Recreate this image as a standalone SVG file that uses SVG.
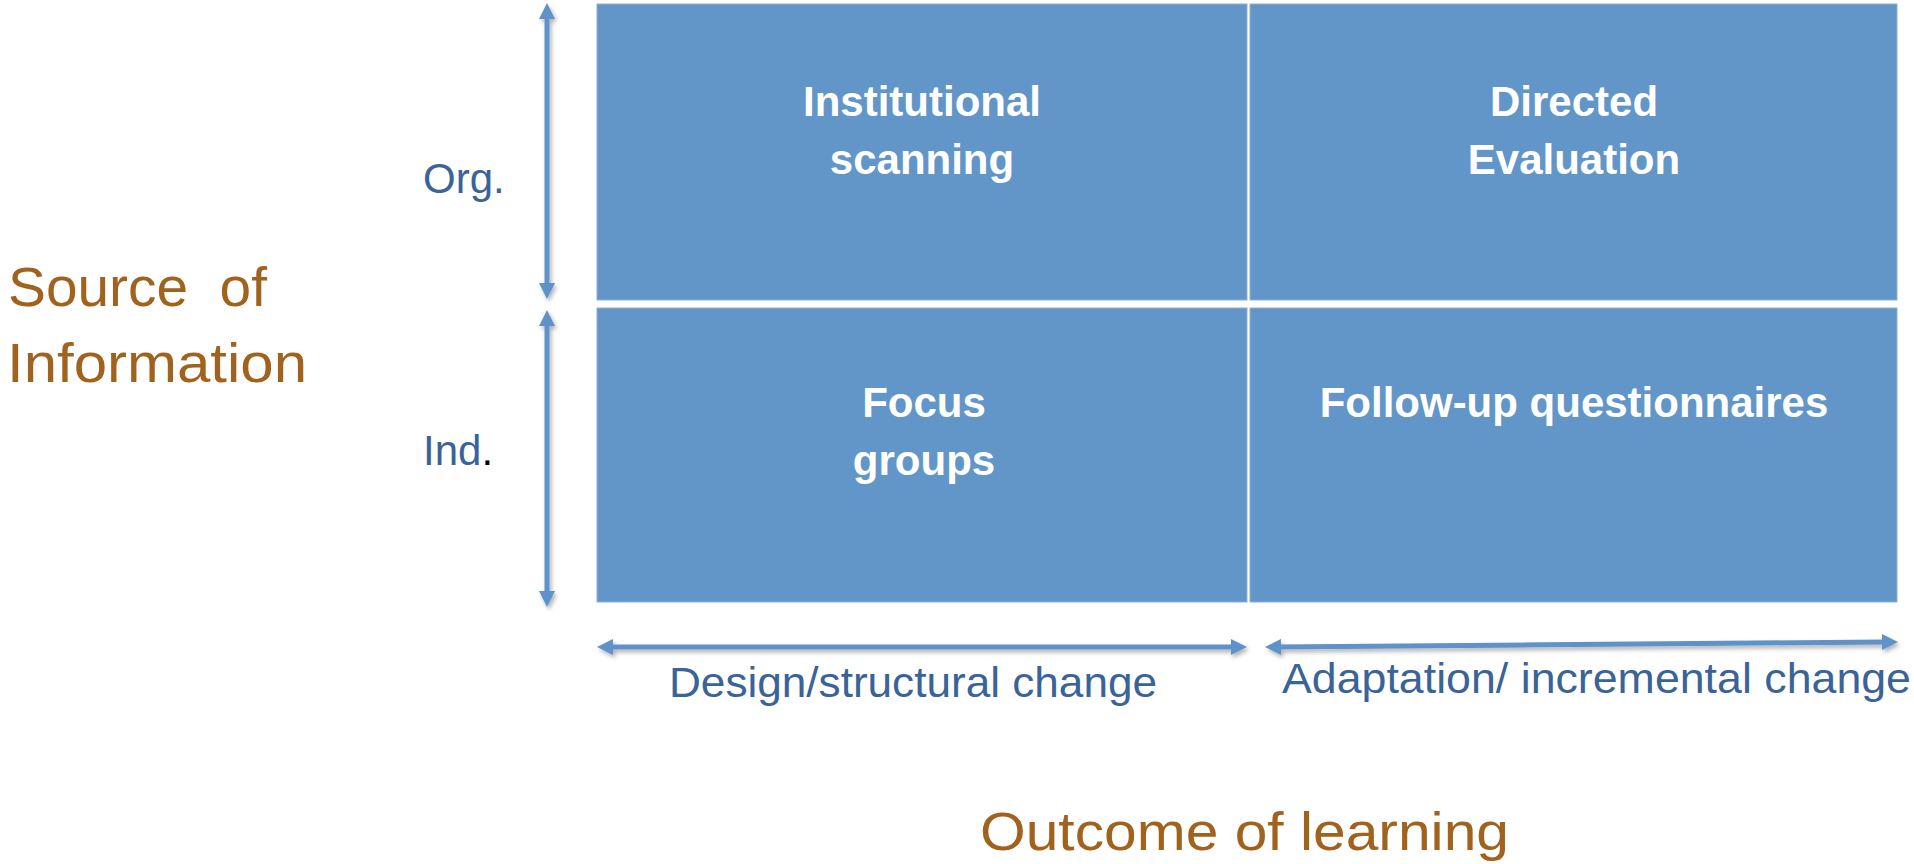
<svg xmlns="http://www.w3.org/2000/svg" width="1914" height="864" viewBox="0 0 1914 864">
  <style>
    .cell { fill: #6296C8; stroke: #8DB0DA; stroke-width: 1; }
    .celltxt { font-family: "Liberation Sans", Arial, sans-serif; font-weight: bold; font-size: 42px; fill: #FFFFFF; text-anchor: middle; }
    .lvl { font-family: "Liberation Sans", Arial, sans-serif; font-size: 42px; fill: #3A6398; }
    .axis { font-family: "Liberation Sans", Arial, sans-serif; font-size: 42px; fill: #3A6398; }
    .title { font-family: "Liberation Sans", Arial, sans-serif; font-size: 56px; fill: #A0621C; }
    .arrow { stroke: #5E92C9; stroke-width: 5; fill: none; marker-start: url(#head); marker-end: url(#head); filter: url(#shadow); }
  </style>
  <defs>
    <marker id="head" viewBox="0 0 16 16" markerWidth="16" markerHeight="16" markerUnits="userSpaceOnUse" refX="4" refY="8" orient="auto-start-reverse">
      <path d="M0,0 L16,8 L0,16 z" fill="#5E92C9"/>
    </marker>
    <filter id="shadow" filterUnits="userSpaceOnUse" x="0" y="0" width="1914" height="864">
      <feDropShadow dx="2" dy="3" stdDeviation="2" flood-color="#000000" flood-opacity="0.3"/>
    </filter>
  </defs>
  <rect width="1914" height="864" fill="#FFFFFF"/>

  <g id="cell-institutional-scanning">
    <rect class="cell" x="597" y="4" width="650" height="296"/>
    <text class="celltxt" x="922" y="116">Institutional</text>
    <text class="celltxt" x="922" y="174">scanning</text>
  </g>
  <g id="cell-directed-evaluation">
    <rect class="cell" x="1250" y="4" width="647" height="296"/>
    <text class="celltxt" x="1574" y="116">Directed</text>
    <text class="celltxt" x="1574" y="174">Evaluation</text>
  </g>
  <g id="cell-focus-groups">
    <rect class="cell" x="597" y="308" width="650" height="294"/>
    <text class="celltxt" x="924" y="417">Focus</text>
    <text class="celltxt" x="924" y="475">groups</text>
  </g>
  <g id="cell-follow-up">
    <rect class="cell" x="1250" y="308" width="647" height="294"/>
    <text class="celltxt" x="1574" y="417">Follow-up questionnaires</text>
  </g>

  <g id="connectors">
    <line class="arrow" x1="547" y1="15" x2="547" y2="287"/>
    <line class="arrow" x1="547" y1="322" x2="547" y2="595"/>
    <line class="arrow" x1="609" y1="647" x2="1235" y2="647"/>
    <line class="arrow" x1="1277" y1="647" x2="1886" y2="642"/>
  </g>

  <g id="label-org">
    <text class="lvl" x="423" y="193">Org.</text>
  </g>
  <g id="label-ind">
    <text class="lvl" x="423" y="465">Ind<tspan fill="#000000">.</tspan></text>
  </g>
  <g id="label-source">
    <text class="title" x="8" y="306" xml:space="preserve" textLength="259" lengthAdjust="spacingAndGlyphs">Source  of</text>
    <text class="title" x="7" y="382" textLength="300" lengthAdjust="spacingAndGlyphs">Information</text>
  </g>
  <g id="label-design">
    <text class="axis" x="669" y="697" textLength="488" lengthAdjust="spacingAndGlyphs">Design/structural change</text>
  </g>
  <g id="label-adaptation">
    <text class="axis" x="1282" y="693" textLength="629" lengthAdjust="spacingAndGlyphs">Adaptation/ incremental change</text>
  </g>
  <g id="label-outcome">
    <text class="title" x="980" y="850" style="font-size:54px" textLength="529" lengthAdjust="spacingAndGlyphs">Outcome of learning</text>
  </g>
</svg>
